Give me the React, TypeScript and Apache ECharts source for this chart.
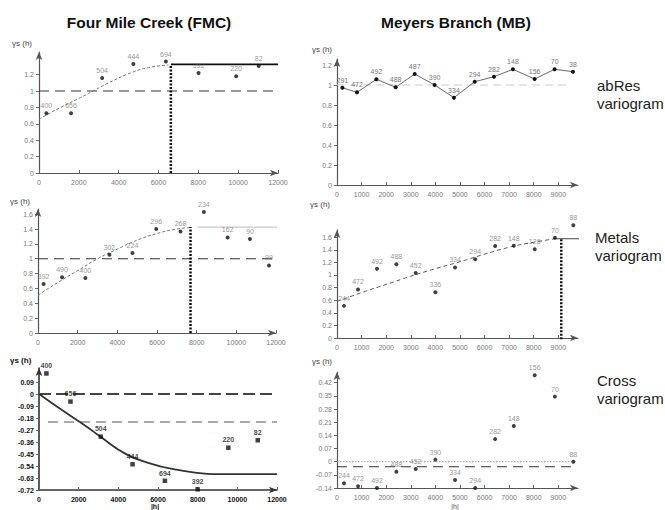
import React, { useEffect, useRef } from "react";
import * as echarts from "echarts";

// ---------- Four Mile Creek (FMC) ----------
const fmcXTicks = [0, 2000, 4000, 6000, 8000, 10000, 12000];

// abRes variogram
const fmcAbResLag = [370, 1610, 3170, 4740, 6370, 8010, 9900, 11030];
const fmcAbResGamma = [0.73, 0.73, 1.16, 1.33, 1.36, 1.22, 1.18, 1.305];
const fmcAbResPairs = ["400", "656", "504", "444", "694", "392", "220", "82"];
const fmcAbResModelLag = [0, 1000, 2000, 2720, 3500, 4700, 5600, 6500];
const fmcAbResModelGamma = [0.655, 0.79, 0.91, 1.0, 1.1, 1.23, 1.29, 1.317];
const fmcAbResSill = 1.325;
const fmcAbResRange = 6620;
const fmcAbResYTicks = [0, 0.2, 0.4, 0.6, 0.8, 1, 1.2];

// Metals variogram
const fmcMetLag = [283, 1212, 2389, 3601, 4763, 5960, 7187, 8364, 9561, 10687, 11646];
const fmcMetGamma = [0.66, 0.75, 0.74, 1.054, 1.077, 1.4, 1.367, 1.63, 1.287, 1.265, 0.91];
const fmcMetPairs = ["392", "490", "400", "302", "224", "296", "268", "234", "162", "90", "99"];
const fmcMetModelLag = [0, 1000, 2000, 3000, 4000, 5000, 6000, 7000, 7690];
const fmcMetModelGamma = [0.51, 0.68, 0.84, 1.0, 1.13, 1.25, 1.34, 1.4, 1.42];
const fmcMetSill = 1.426;
const fmcMetRange = 7690;
const fmcMetYTicks = [0, 0.2, 0.4, 0.6, 0.8, 1, 1.2, 1.4, 1.6];

// Cross variogram
const fmcCrossLag = [374, 1586, 3116, 4717, 6348, 8000, 9545, 11030];
const fmcCrossGamma = [0.154, -0.057, -0.32, -0.527, -0.651, -0.715, -0.403, -0.347];
const fmcCrossPairs = ["400", "656", "504", "444", "694", "392", "220", "82"];
const fmcCrossModelLag = [0, 1380, 2390, 3066, 4414, 5590, 6768, 8116, 8788, 12000];
const fmcCrossModelGamma = [0, -0.143, -0.243, -0.317, -0.453, -0.52, -0.564, -0.594, -0.601, -0.601];
const fmcCrossLowerRef = -0.21;
const fmcCrossYTicks = [0.09, 0, -0.09, -0.18, -0.27, -0.36, -0.45, -0.54, -0.63, -0.72];

// ---------- Meyers Branch (MB) ----------
const mbXTicks = [0, 1000, 2000, 3000, 4000, 5000, 6000, 7000, 8000, 9000];

// abRes variogram
const mbAbResLag = [219, 813, 1600, 2386, 3159, 3971, 4756, 5598, 6382, 7155, 8037, 8850, 9594];
const mbAbResGamma = [0.973, 0.927, 1.057, 0.977, 1.11, 1.0, 0.873, 1.033, 1.083, 1.157, 1.06, 1.157, 1.133];
const mbAbResPairs = ["291", "472", "492", "488", "487", "390", "334", "294", "282", "148", "156", "70", "38"];
const mbAbResYTicks = [0, 0.2, 0.4, 0.6, 0.8, 1, 1.2];

// Metals + Cross variograms share lags
const mbLag = [285, 855, 1626, 2414, 3200, 4000, 4800, 5620, 6430, 7190, 8040, 8860, 9610];
const mbMetPairs = ["244", "472", "492", "488", "452", "336", "334", "294", "282", "148", "126", "70", "88"];
const mbMetGamma = [0.51, 0.77, 1.1, 1.17, 1.03, 0.725, 1.12, 1.25, 1.46, 1.465, 1.41, 1.59, 1.79];
const mbMetModelLag = [0, 1000, 2000, 3000, 4000, 5000, 6000, 7000, 8000, 8800];
const mbMetModelGamma = [0.58, 0.72, 0.85, 0.98, 1.1, 1.21, 1.33, 1.44, 1.52, 1.57];
const mbMetSill = 1.575;
const mbMetRange = 9120;
const mbMetYTicks = [0, 0.2, 0.4, 0.6, 0.8, 1, 1.2, 1.4, 1.6];

const mbCrossPairs = ["244", "472", "492", "488", "452", "390", "334", "294", "282", "148", "156", "70", "88"];
const mbCrossGamma = [-0.115, -0.131, -0.14, -0.053, -0.039, 0.011, -0.097, -0.14, 0.12, 0.19, 0.46, 0.346, 0.0];
const mbCrossLowerRef = -0.027;
const mbCrossYTicks = [-0.14, -0.07, 0, 0.07, 0.14, 0.21, 0.28, 0.35, 0.42];

const FONT = "Liberation Sans, Arial, sans-serif";
const fmt = (v: number) => String(Math.round(v * 100) / 100);
const zip = (a: number[], b: number[]) => a.map((x, i) => [x, b[i]]);

function axes(gi: number, xmax: number, ymin: number, ymax: number, xt: number[], yt: number[], bold = false) {
  const color = bold ? "#111" : "#777";
  const weight = bold ? "bold" : "normal";
  const line = { onZero: false, symbol: ["none", "arrow"], symbolSize: [5, 8], lineStyle: { color: bold ? "#333" : "#555", width: bold ? 1.6 : 1.2 } };
  return {
    x: {
      type: "value", gridIndex: gi, min: 0, max: xmax,
      axisLine: line,
      axisTick: { show: true, inside: true, length: 3, customValues: xt, lineStyle: { color: "#666" } },
      axisLabel: { customValues: xt, fontSize: 7, color, fontWeight: weight, fontFamily: FONT, margin: 6, formatter: fmt },
      splitLine: { show: false },
    },
    y: {
      type: "value", gridIndex: gi, min: ymin, max: ymax,
      axisLine: line,
      axisTick: { show: true, inside: false, length: 3, customValues: yt, lineStyle: { color: "#666" } },
      axisLabel: { customValues: yt, fontSize: 7, color, fontWeight: weight, fontFamily: FONT, margin: 5, formatter: fmt },
      splitLine: { show: false },
    },
  };
}

function pts(gi: number, data: number[][], labels: string[], bold = false, extra: any = {}) {
  return {
    type: "scatter", xAxisIndex: gi, yAxisIndex: gi, data, clip: false,
    symbol: bold ? "rect" : "circle", symbolSize: bold ? 4.5 : 4,
    itemStyle: { color: "#111" },
    label: {
      show: true, position: "top", distance: 2, fontSize: 7, fontFamily: FONT,
      color: bold ? "#111" : "#777", fontWeight: bold ? "bold" : "normal",
      formatter: (p: any) => labels[p.dataIndex],
    },
    ...extra,
  };
}

function ln(gi: number, data: number[][], style: any, smooth = false) {
  return {
    type: "line", xAxisIndex: gi, yAxisIndex: gi, data, clip: false,
    showSymbol: false, smooth, lineStyle: style, z: 1,
  };
}

export default function App() {
  const ref = useRef<HTMLDivElement>(null);
  useEffect(() => {
    if (!ref.current) return;
    const chart = echarts.init(ref.current, null, { renderer: "svg" });
    const A = [
      axes(0, 12000, 0, 1.476, fmcXTicks, fmcAbResYTicks),
      axes(1, 12000, 0, 1.67, fmcXTicks, fmcMetYTicks),
      axes(2, 12000, -0.72, 0.195, fmcXTicks, fmcCrossYTicks, true),
      axes(3, 9800, 0, 1.26, mbXTicks, mbAbResYTicks),
      axes(4, 9800, 0, 1.714, mbXTicks, mbMetYTicks),
      axes(5, 9800, -0.14, 0.477, mbXTicks, mbCrossYTicks),
    ];
    const dashRef = { color: "#333", width: 1.2, type: [10, 6] };
    const dotted = { color: "#111", width: 2.5, type: [2, 1.5] };
    const modelDash = { color: "#777", width: 1, type: [3, 2] };
    const yName = (x: number, y: number, bold = false) => ({
      type: "text", left: x, top: y,
      style: { text: "γs (h)", fontSize: 8, fontFamily: FONT, fill: bold ? "#111" : "#444", fontWeight: bold ? "bold" : "normal" },
    });
    const side = (x: number, y: number, t: string) => ({
      type: "text", left: x, top: y,
      style: { text: t, fontSize: 15, lineHeight: 18, fontFamily: FONT, fill: "#222" },
    });
    const option: any = {
      animation: false,
      grid: [
        { left: 39, top: 52, width: 239, height: 121 },
        { left: 38, top: 209, width: 238, height: 124 },
        { left: 39, top: 368, width: 238, height: 122 },
        { left: 337, top: 59, width: 241, height: 126 },
        { left: 337, top: 230, width: 241, height: 108 },
        { left: 337, top: 372, width: 241, height: 116 },
      ],
      xAxis: A.map((a) => a.x),
      yAxis: A.map((a) => a.y),
      series: [
        // FMC abRes
        ln(0, [[0, 1], [12000, 1]], dashRef),
        ln(0, zip(fmcAbResModelLag, fmcAbResModelGamma), modelDash, true),
        ln(0, [[fmcAbResRange, fmcAbResSill], [12000, fmcAbResSill]], { color: "#111", width: 1.6 }),
        ln(0, [[fmcAbResRange, 0], [fmcAbResRange, fmcAbResSill]], dotted),
        pts(0, zip(fmcAbResLag, fmcAbResGamma), fmcAbResPairs),
        // FMC metals
        ln(1, [[0, 1], [12000, 1]], dashRef),
        ln(1, zip(fmcMetModelLag, fmcMetModelGamma), modelDash, true),
        ln(1, [[8050, fmcMetSill], [12400, fmcMetSill]], { color: "#bbb", width: 1 }),
        ln(1, [[fmcMetRange, 0], [fmcMetRange, fmcMetSill]], dotted),
        pts(1, zip(fmcMetLag, fmcMetGamma), fmcMetPairs),
        // FMC cross
        ln(2, [[0, 0], [12000, 0]], { color: "#444", width: 2.2, type: [12, 5] }),
        ln(2, [[450, fmcCrossLowerRef], [12000, fmcCrossLowerRef]], { color: "#555", width: 1.2, type: [10, 6] }),
        ln(2, zip(fmcCrossModelLag, fmcCrossModelGamma), { color: "#333", width: 1.8 }, true),
        pts(2, zip(fmcCrossLag, fmcCrossGamma), fmcCrossPairs, true),
        // MB abRes
        ln(3, [[0, 1], [9500, 1]], { color: "#ccc", width: 1.2, type: [8, 5] }),
        {
          ...pts(3, zip(mbAbResLag, mbAbResGamma), mbAbResPairs),
          type: "line", showSymbol: true, symbol: "circle", symbolSize: 4,
          lineStyle: { color: "#444", width: 0.8 },
        },
        // MB metals
        ln(4, zip(mbMetModelLag, mbMetModelGamma), { color: "#555", width: 1, type: [4, 3] }, true),
        ln(4, [[8800, mbMetSill], [9950, mbMetSill]], { color: "#444", width: 1 }),
        ln(4, [[mbMetRange, -0.02], [mbMetRange, mbMetSill]], dotted),
        pts(4, zip(mbLag, mbMetGamma), mbMetPairs),
        // MB cross
        ln(5, [[0, 0], [9700, 0]], { color: "#999", width: 1, type: [1.5, 1.5] }),
        ln(5, [[0, mbCrossLowerRef], [9700, mbCrossLowerRef]], dashRef),
        pts(5, zip(mbLag, mbCrossGamma), mbCrossPairs),
      ],
      graphic: [
        { type: "text", x: 149, y: 22, style: { text: "Four Mile Creek (FMC)", fontSize: 15.5, fontWeight: "bold", fontFamily: FONT, fill: "#111", align: "center", verticalAlign: "middle" } },
        { type: "text", x: 456, y: 22, style: { text: "Meyers Branch (MB)", fontSize: 15.5, fontWeight: "bold", fontFamily: FONT, fill: "#111", align: "center", verticalAlign: "middle" } },
        yName(12, 39),
        yName(10, 197),
        yName(10, 356, true),
        yName(312, 45),
        yName(310, 200),
        yName(312, 357),
        { type: "text", x: 155, y: 506, style: { text: "|h|", fontSize: 7, fontWeight: "bold", fontFamily: FONT, fill: "#111", align: "center", verticalAlign: "middle" } },
        { type: "text", x: 455, y: 506, style: { text: "|h|", fontSize: 7, fontFamily: FONT, fill: "#555", align: "center", verticalAlign: "middle" } },
        side(597, 76, "abRes\nvariogram"),
        side(595, 228, "Metals\nvariogram"),
        side(597, 371, "Cross\nvariogram"),
      ],
    };
    chart.setOption(option);
    return () => chart.dispose();
  }, []);
  return <div ref={ref} style={{ position: "fixed", left: 0, top: 0, width: 665, height: 510, background: "#fff" }} />;
}
